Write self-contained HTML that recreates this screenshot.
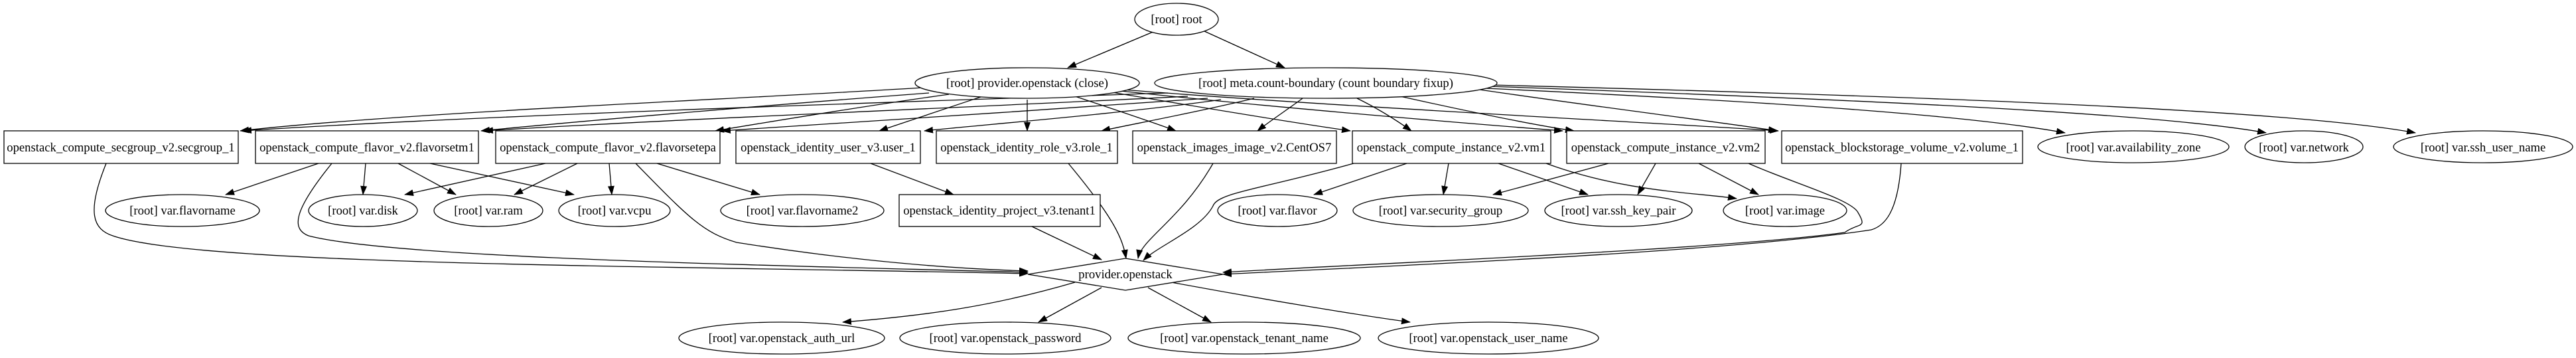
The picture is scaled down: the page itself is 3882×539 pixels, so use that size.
<!DOCTYPE html>
<html><head><meta charset="utf-8"><style>
html,body{margin:0;padding:0;background:#fff;}
svg{display:block;}
text{font-family:"Liberation Serif",serif;font-size:18.67px;fill:#000;}
</style></head><body>
<svg width="3882" height="539" viewBox="0 0 3882 539" xmlns="http://www.w3.org/2000/svg">
<defs><marker id="a" markerUnits="userSpaceOnUse" markerWidth="14" markerHeight="10" refX="13" refY="5" orient="auto"><path d="M0,0 L14,5 L0,10 z" fill="#000"/></marker></defs>
<g fill="none" stroke="#000" stroke-width="1.3" marker-end="url(#a)">
<path d="M1740,47 L1609,102"/>
<path d="M1815,47 L1936,102"/>
<path d="M1390,132 C1100,150 600,170 362,197"/>
<path d="M1760,140 C1300,155 700,175 366,197"/>
<path d="M1400,140 C1200,155 900,180 725,197"/>
<path d="M1790,145 C1500,160 1000,180 730,197"/>
<path d="M1430,142 C1300,160 1150,185 1078,197"/>
<path d="M1820,148 C1600,165 1250,185 1088,197"/>
<path d="M1478,146 C1420,165 1360,185 1325,197"/>
<path d="M1840,150 C1700,170 1480,188 1393,197"/>
<path d="M1548,150 L1548,197"/>
<path d="M1890,148 C1800,170 1700,188 1660,197"/>
<path d="M1620,145 C1680,165 1740,185 1772,197"/>
<path d="M1963,148 C1940,165 1910,185 1895,197"/>
<path d="M1670,138 C1800,160 1950,185 2035,197"/>
<path d="M2045,148 C2080,165 2110,185 2127,197"/>
<path d="M1680,136 C1900,160 2200,185 2355,197"/>
<path d="M2110,145 C2200,165 2310,188 2372,197"/>
<path d="M1680,134 C2000,160 2500,185 2680,197"/>
<path d="M2230,135 C2400,160 2600,185 2678,197"/>
<path d="M2240,133 C2600,150 2950,170 3112,200"/>
<path d="M2245,130 C2800,150 3250,170 3415,200"/>
<path d="M2250,128 C2900,145 3450,165 3640,200"/>
<path d="M160,246 C130,320 140,345 170,355 C300,400 1000,400 1549,412"/>
<path d="M480,246 L340,293"/>
<path d="M551,246 L547,293"/>
<path d="M600,246 L687,293"/>
<path d="M648,246 L865,293"/>
<path d="M500,246 C440,320 440,345 465,355 C600,390 1200,400 1549,410"/>
<path d="M822,246 L610,293"/>
<path d="M870,246 L775,293"/>
<path d="M918,246 L922,293"/>
<path d="M990,246 L1145,293"/>
<path d="M958,246 C1040,330 1060,350 1110,365 C1300,395 1450,405 1549,408"/>
<path d="M1312,246 L1437,293"/>
<path d="M1555,341 L1660,391"/>
<path d="M1610,246 C1680,330 1692,360 1697,389"/>
<path d="M1828,246 C1780,330 1720,360 1715,389"/>
<path d="M2040,246 C1900,285 1835,290 1828,310 C1810,345 1745,370 1723,392"/>
<path d="M2120,246 L1980,293"/>
<path d="M2183,246 L2175,293"/>
<path d="M2258,246 L2393,293"/>
<path d="M2330,246 C2450,290 2560,290 2617,299"/>
<path d="M2424,246 L2250,293"/>
<path d="M2495,246 L2468,293"/>
<path d="M2560,246 L2650,293"/>
<path d="M2635,246 C2700,275 2790,300 2800,320 C2815,345 2800,335 2780,350 C2600,375 2100,395 1843,410"/>
<path d="M2865,246 C2860,320 2840,340 2820,346 C2600,380 2100,400 1843,413"/>
<path d="M1620,425 C1500,460 1400,475 1270,485"/>
<path d="M1660,433 L1565,485"/>
<path d="M1730,433 L1825,485"/>
<path d="M1765,425 C1900,450 2050,475 2125,485"/>
</g>
<g fill="#fff" stroke="#000" stroke-width="1.3">
<ellipse cx="1773" cy="29" rx="63" ry="24"/>
<ellipse cx="1548" cy="125" rx="169" ry="23"/>
<ellipse cx="1998" cy="125" rx="258" ry="23"/>
<rect x="6" y="197" width="353" height="49"/>
<rect x="385" y="197" width="336" height="49"/>
<rect x="747" y="197" width="338" height="49"/>
<rect x="1109" y="197" width="278" height="49"/>
<rect x="1411" y="197" width="273" height="49"/>
<rect x="1707" y="197" width="307" height="49"/>
<rect x="2038" y="197" width="299" height="49"/>
<rect x="2361" y="197" width="299" height="49"/>
<rect x="2685" y="197" width="363" height="49"/>
<ellipse cx="3215" cy="221" rx="144" ry="24"/>
<ellipse cx="3472" cy="221" rx="89" ry="24"/>
<ellipse cx="3742" cy="221" rx="135" ry="24"/>
<ellipse cx="275" cy="317" rx="116" ry="24"/>
<ellipse cx="547" cy="317" rx="82" ry="24"/>
<ellipse cx="736" cy="317" rx="82" ry="24"/>
<ellipse cx="926" cy="317" rx="84" ry="24"/>
<ellipse cx="1209" cy="317" rx="123" ry="24"/>
<rect x="1355" y="293" width="303" height="48"/>
<ellipse cx="1925" cy="317" rx="90" ry="24"/>
<ellipse cx="2171" cy="317" rx="132" ry="24"/>
<ellipse cx="2439" cy="317" rx="111" ry="24"/>
<ellipse cx="2690" cy="317" rx="93" ry="24"/>
<polygon points="1696,389 1843,413 1696,437 1549,413"/>
<ellipse cx="1178" cy="509" rx="155" ry="24"/>
<ellipse cx="1515" cy="509" rx="159" ry="24"/>
<ellipse cx="1875" cy="509" rx="175" ry="24"/>
<ellipse cx="2243" cy="509" rx="166" ry="24"/>
</g>
<g text-anchor="middle">
<text x="1773" y="35">[root] root</text>
<text x="1548" y="131">[root] provider.openstack (close)</text>
<text x="1998" y="131">[root] meta.count-boundary (count boundary fixup)</text>
<text x="182" y="228">openstack_compute_secgroup_v2.secgroup_1</text>
<text x="553" y="228">openstack_compute_flavor_v2.flavorsetm1</text>
<text x="916" y="228">openstack_compute_flavor_v2.flavorsetepa</text>
<text x="1248" y="228">openstack_identity_user_v3.user_1</text>
<text x="1547" y="228">openstack_identity_role_v3.role_1</text>
<text x="1860" y="228">openstack_images_image_v2.CentOS7</text>
<text x="2187" y="228">openstack_compute_instance_v2.vm1</text>
<text x="2510" y="228">openstack_compute_instance_v2.vm2</text>
<text x="2866" y="228">openstack_blockstorage_volume_v2.volume_1</text>
<text x="3215" y="228">[root] var.availability_zone</text>
<text x="3472" y="228">[root] var.network</text>
<text x="3742" y="228">[root] var.ssh_user_name</text>
<text x="275" y="323">[root] var.flavorname</text>
<text x="547" y="323">[root] var.disk</text>
<text x="736" y="323">[root] var.ram</text>
<text x="926" y="323">[root] var.vcpu</text>
<text x="1209" y="323">[root] var.flavorname2</text>
<text x="1506" y="323">openstack_identity_project_v3.tenant1</text>
<text x="1925" y="323">[root] var.flavor</text>
<text x="2171" y="323">[root] var.security_group</text>
<text x="2439" y="323">[root] var.ssh_key_pair</text>
<text x="2690" y="323">[root] var.image</text>
<text x="1696" y="419">provider.openstack</text>
<text x="1178" y="515">[root] var.openstack_auth_url</text>
<text x="1515" y="515">[root] var.openstack_password</text>
<text x="1875" y="515">[root] var.openstack_tenant_name</text>
<text x="2243" y="515">[root] var.openstack_user_name</text>
</g>
</svg>
</body></html>
